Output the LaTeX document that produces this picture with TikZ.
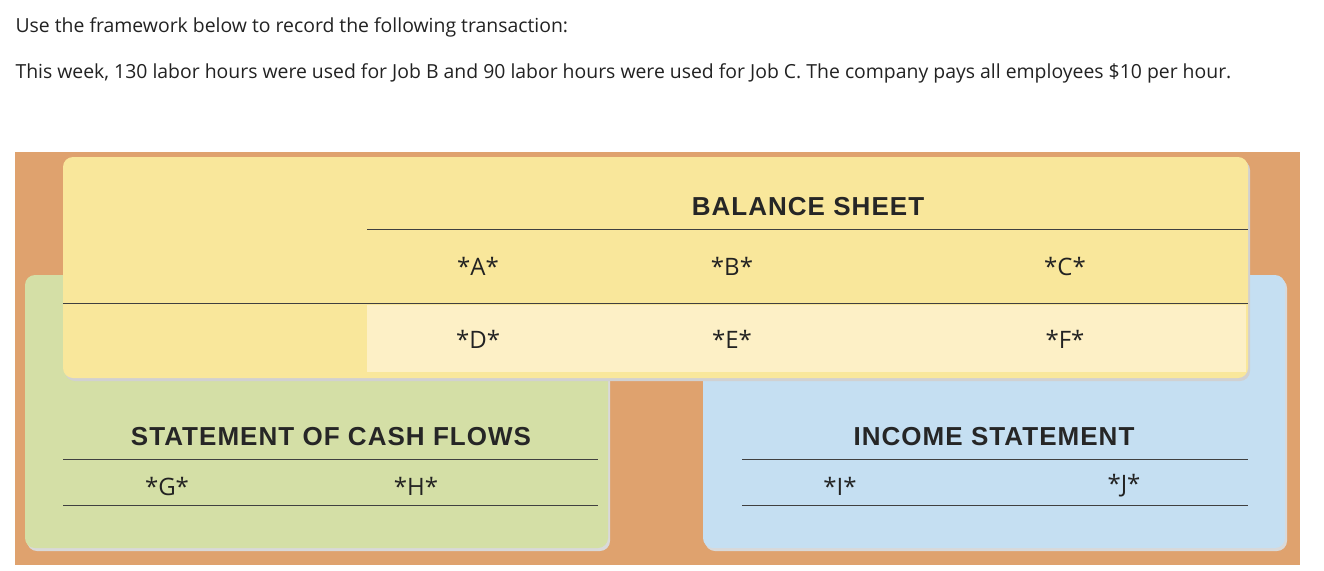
\documentclass[tikz,border=0pt]{standalone}
\usepackage{fontspec}
\setmainfont{Open Sans}
\newfontfamily\hdr[LetterSpace=4]{Liberation Sans}
\definecolor{orng}{HTML}{DFA26E}
\definecolor{ylw}{HTML}{F9E79B}
\definecolor{lylw}{HTML}{FDF0C6}
\definecolor{grn}{HTML}{D4DFA6}
\definecolor{blu}{HTML}{C5DFF2}
\definecolor{txt}{HTML}{222222}
\begin{document}
\begin{tikzpicture}[x=1pt,y=-1pt,
  panel/.style={rounded corners=10pt},
  rule/.style={draw=black!75,line width=1pt},
  cell/.style={font=\fontsize{24}{28}\selectfont,text=txt},
  head/.style={font=\hdr\bfseries\fontsize{26}{29}\selectfont,text=black!85},
  intro/.style={anchor=west,font=\fontsize{19.4}{22}\selectfont,text=txt}]
\useasboundingbox (0,0) rectangle (1324,570);
\fill[white] (0,0) rectangle (1324,570);
\node[intro] (t1) at (12,27) {Use the framework below to record the following transaction:};
\node[intro] (t2) at (12,73) {This week, 130 labor hours were used for Job B and 90 labor hours were used for Job C. The company pays all employees \$10 per hour.};
\fill[orng] (15,152) rectangle (1300,565);
\fill[black!15,panel] (27,278) rectangle (610,551);
\fill[black!15,panel] (705,278) rectangle (1287,551);
\fill[grn,panel] (25,275) rectangle (608,548);
\fill[blu,panel] (703,275) rectangle (1285,548);
\fill[black!18,panel] (65,160) rectangle (1250,381);
\fill[ylw,panel] (63,157) rectangle (1248,378);
\fill[lylw] (367,305) rectangle (1246,372);
\draw[rule] (367,229) -- (1248,229);
\draw[rule] (63,303) -- (1248,303);
\draw[rule] (63,459) -- (598,459);
\draw[rule] (63,505) -- (598,505);
\draw[rule] (742,459) -- (1248,459);
\draw[rule] (742,505) -- (1248,505);
\node[head] (bs) at (808,207) {BALANCE SHEET};
\node[head] (cf) at (331,437) {STATEMENT OF CASH FLOWS};
\node[head] (is) at (994,437) {INCOME STATEMENT};
\node[cell] (a) at (478,266) {*A*};
\node[cell] (b) at (732,266) {*B*};
\node[cell] (c) at (1065,266) {*C*};
\node[cell] (d) at (478,339) {*D*};
\node[cell] (e) at (732,339) {*E*};
\node[cell] (f) at (1065,339) {*F*};
\node[cell] (g) at (167,486) {*G*};
\node[cell] (h) at (416,486) {*H*};
\node[cell] (i) at (840,486) {*I*};
\node[cell] (j) at (1124,486) {*J*};
\end{tikzpicture}
\end{document}
